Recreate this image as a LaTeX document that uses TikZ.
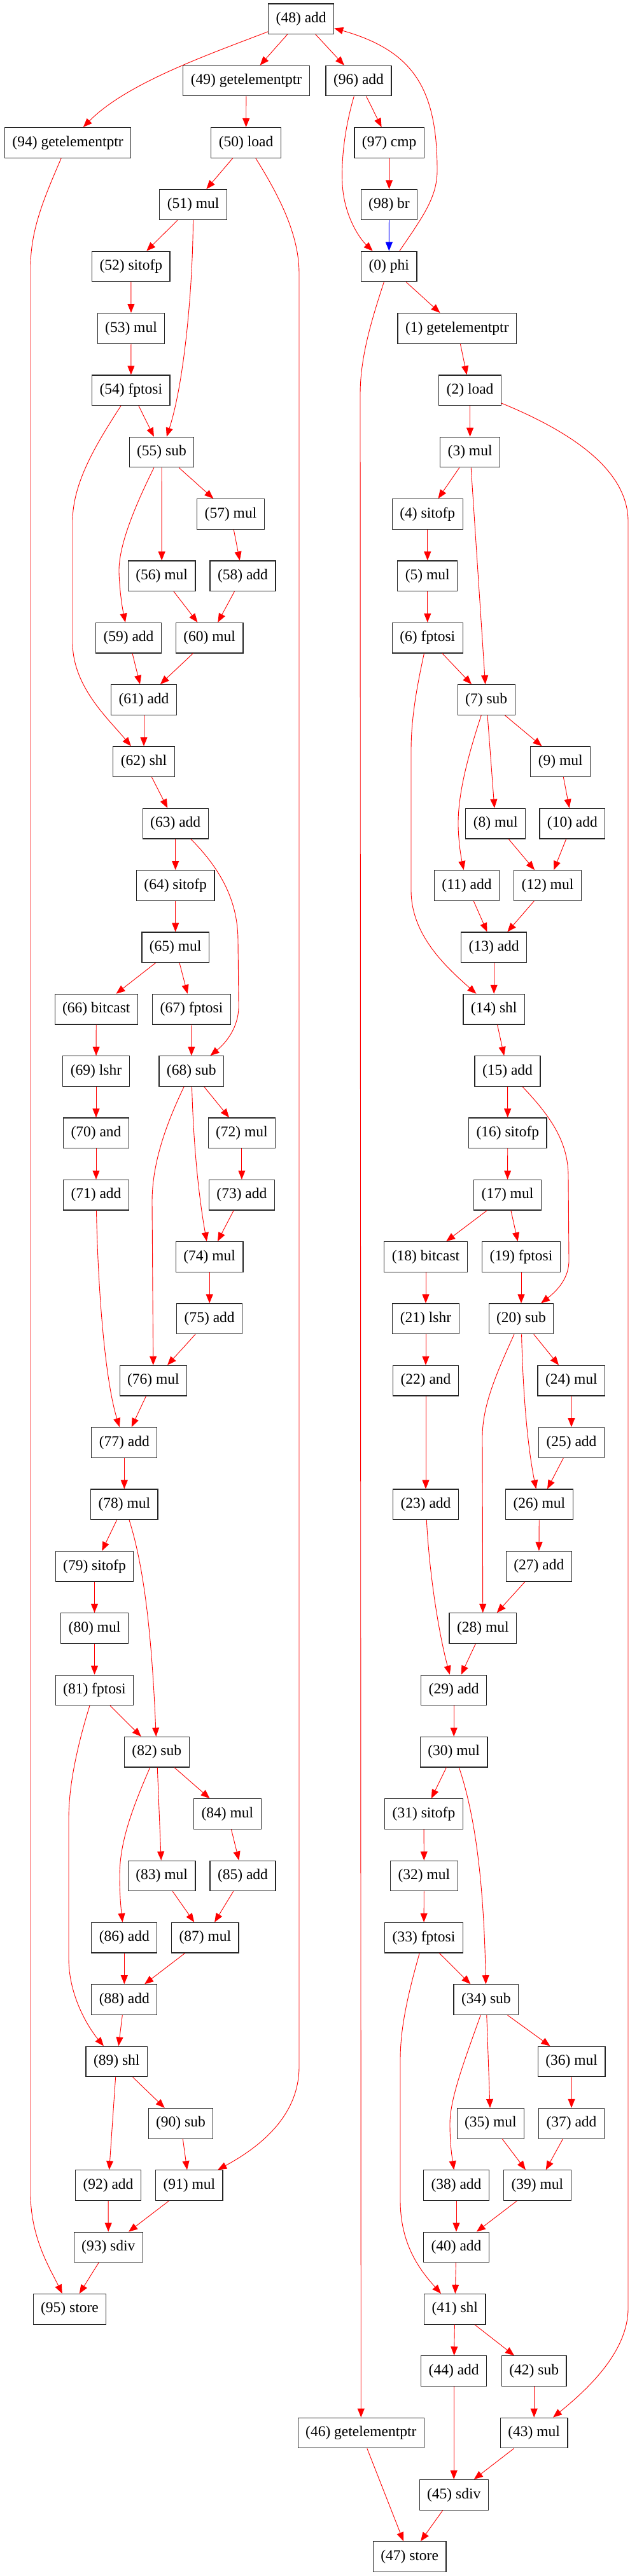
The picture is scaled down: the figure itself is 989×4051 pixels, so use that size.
\documentclass[tikz,border=0pt]{standalone}
\usepackage{fontspec}
\newfontfamily\gv{Liberation Serif}
\usetikzlibrary{arrows.meta}
\tikzset{
  box/.style={draw=black!85, line width=1.2pt, minimum height=47.6pt, inner xsep=12pt, inner ysep=0pt, font=\gv\fontsize{23.5}{27}\selectfont, fill=white},
  e/.style={draw=red, line width=0.9pt, -{Triangle[length=14pt,width=11pt]}, fill=none},
  eb/.style={e, draw=blue}
}
\newcommand{\nd}[4]{\node[box] (n#1) at (#2,29.7+97.34*#3) {(#1) #4};}
\newcommand{\ed}[2]{\draw[e] (n#1) -- (n#2);}
\begin{document}
\begin{tikzpicture}[x=1pt,y=-1pt]
\fill[white] (0,0) rectangle (989,4051);
\useasboundingbox (0,0) rectangle (989,4051);
% nodes
\nd{48}{473.2}{0}{add}
\nd{49}{387}{1}{getelementptr}
\nd{96}{563.5}{1}{add}
\nd{94}{106.6}{2}{getelementptr}
\nd{50}{386.5}{2}{load}
\nd{97}{611.7}{2}{cmp}
\nd{51}{303.6}{3}{mul}
\nd{98}{611.5}{3}{br}
\nd{52}{205.8}{4}{sitofp}
\nd{0}{611.3}{4}{phi}
\nd{53}{206}{5}{mul}
\nd{1}{718.3}{5}{getelementptr}
\nd{54}{205.8}{6}{fptosi}
\nd{2}{738.6}{6}{load}
\nd{55}{254}{7}{sub}
\nd{3}{738.6}{7}{mul}
\nd{57}{362.5}{8}{mul}
\nd{4}{671.8}{8}{sitofp}
\nd{56}{254.2}{9}{mul}
\nd{58}{381.5}{9}{add}
\nd{5}{671.8}{9}{mul}
\nd{59}{202}{10}{add}
\nd{60}{329.2}{10}{mul}
\nd{6}{671.8}{10}{fptosi}
\nd{61}{226}{11}{add}
\nd{7}{764.2}{11}{sub}
\nd{62}{226}{12}{shl}
\nd{9}{880.7}{12}{mul}
\nd{63}{275.7}{13}{add}
\nd{8}{778.8}{13}{mul}
\nd{10}{899.4}{13}{add}
\nd{64}{275.7}{14}{sitofp}
\nd{11}{733.5}{14}{add}
\nd{12}{860.5}{14}{mul}
\nd{65}{275.7}{15}{mul}
\nd{13}{776.2}{15}{add}
\nd{66}{151.3}{16}{bitcast}
\nd{67}{301}{16}{fptosi}
\nd{14}{776.2}{16}{shl}
\nd{69}{151}{17}{lshr}
\nd{68}{300.8}{17}{sub}
\nd{15}{797.5}{17}{add}
\nd{70}{151}{18}{and}
\nd{72}{379.9}{18}{mul}
\nd{16}{797.8}{18}{sitofp}
\nd{71}{151}{19}{add}
\nd{73}{379.9}{19}{add}
\nd{17}{797.5}{19}{mul}
\nd{74}{329.2}{20}{mul}
\nd{18}{669}{20}{bitcast}
\nd{19}{819}{20}{fptosi}
\nd{75}{329.2}{21}{add}
\nd{21}{669}{21}{lshr}
\nd{20}{819}{21}{sub}
\nd{76}{240.9}{22}{mul}
\nd{22}{669}{22}{and}
\nd{24}{897.8}{22}{mul}
\nd{77}{195.3}{23}{add}
\nd{25}{898}{23}{add}
\nd{78}{195.3}{24}{mul}
\nd{23}{669}{24}{add}
\nd{26}{847.4}{24}{mul}
\nd{79}{148.5}{25}{sitofp}
\nd{27}{846.8}{25}{add}
\nd{80}{148.5}{26}{mul}
\nd{28}{758.8}{26}{mul}
\nd{81}{148.5}{27}{fptosi}
\nd{29}{713.2}{27}{add}
\nd{82}{246.3}{28}{sub}
\nd{30}{713.2}{28}{mul}
\nd{84}{357.4}{29}{mul}
\nd{31}{666}{29}{sitofp}
\nd{83}{254.2}{30}{mul}
\nd{85}{381.5}{30}{add}
\nd{32}{666.4}{30}{mul}
\nd{86}{195.3}{31}{add}
\nd{87}{322.3}{31}{mul}
\nd{33}{666}{31}{fptosi}
\nd{88}{195.3}{32}{add}
\nd{34}{763.9}{32}{sub}
\nd{89}{183.3}{33}{shl}
\nd{36}{898.1}{33}{mul}
\nd{90}{284}{34}{sub}
\nd{35}{770.9}{34}{mul}
\nd{37}{898}{34}{add}
\nd{92}{170}{35}{add}
\nd{91}{297.3}{35}{mul}
\nd{38}{717}{35}{add}
\nd{39}{844.3}{35}{mul}
\nd{93}{170.3}{36}{sdiv}
\nd{40}{717}{36}{add}
\nd{95}{109.5}{37}{store}
\nd{41}{714.8}{37}{shl}
\nd{44}{713.2}{38}{add}
\nd{42}{839.2}{38}{sub}
\nd{46}{567.3}{39}{getelementptr}
\nd{43}{839.2}{39}{mul}
\nd{45}{713.2}{40}{sdiv}
\nd{47}{643.6}{41}{store}
% straight edges
\ed{48}{49}\ed{48}{96}\ed{49}{50}\ed{96}{97}\ed{97}{98}\ed{50}{51}\ed{51}{52}
\ed{52}{53}\ed{53}{54}\ed{54}{55}\ed{0}{1}\ed{1}{2}\ed{2}{3}
\ed{55}{57}\ed{55}{56}\ed{57}{58}\ed{56}{60}\ed{58}{60}\ed{59}{61}\ed{60}{61}
\ed{61}{62}\ed{62}{63}\ed{63}{64}\ed{64}{65}\ed{65}{66}\ed{65}{67}\ed{66}{69}
\ed{67}{68}\ed{69}{70}\ed{70}{71}\ed{68}{72}\ed{72}{73}\ed{73}{74}\ed{74}{75}
\ed{75}{76}\ed{76}{77}\ed{77}{78}\ed{78}{79}\ed{79}{80}\ed{80}{81}\ed{81}{82}
\ed{82}{84}\ed{82}{83}\ed{84}{85}\ed{83}{87}\ed{85}{87}\ed{86}{88}\ed{87}{88}
\ed{88}{89}\ed{89}{90}\ed{89}{92}\ed{90}{91}\ed{92}{93}\ed{91}{93}\ed{93}{95}
\ed{3}{4}\ed{3}{7}\ed{4}{5}\ed{5}{6}\ed{6}{7}\ed{7}{9}\ed{7}{8}\ed{9}{10}
\ed{8}{12}\ed{10}{12}\ed{11}{13}\ed{12}{13}\ed{13}{14}\ed{14}{15}\ed{15}{16}
\ed{16}{17}\ed{17}{18}\ed{17}{19}\ed{18}{21}\ed{19}{20}\ed{21}{22}\ed{22}{23}
\ed{20}{24}\ed{24}{25}\ed{25}{26}\ed{26}{27}\ed{27}{28}\ed{28}{29}\ed{29}{30}
\ed{30}{31}\ed{31}{32}\ed{32}{33}\ed{33}{34}\ed{34}{36}\ed{34}{35}\ed{36}{37}
\ed{35}{39}\ed{37}{39}\ed{38}{40}\ed{39}{40}\ed{40}{41}\ed{41}{44}\ed{41}{42}
\ed{42}{43}\ed{44}{45}\ed{43}{45}\ed{46}{47}\ed{45}{47}
\draw[eb] (n98) -- (n0);
% curved edges
\draw[e] (n48) .. controls (330,85) and (200,130) .. (n94);
\draw[e] (n0) .. controls (665,340) and (687,310) .. (687,268) .. controls (687,140) and (650,80) .. (n48);
\draw[e] (n96) .. controls (542,200) and (536,250) .. (538,290) .. controls (541,340) and (565,375) .. (n0);
\draw[e] (n94) .. controls (70,310) and (48,360) .. (48,420) -- (48,3450) .. controls (48,3520) and (80,3570) .. (n95);
\draw[e] (n50) .. controls (440,310) and (470,370) .. (470,430) -- (470,3250) .. controls (470,3320) and (420,3370) .. (n91);
\draw[e] (n51) .. controls (303,450) and (290,600) .. (n55);
\draw[e] (n54) .. controls (150,700) and (114,760) .. (114,820) -- (114,1010) .. controls (114,1080) and (170,1130) .. (n62);
\draw[e] (n55) .. controls (210,800) and (186,860) .. (187,900) .. controls (188,930) and (192,955) .. (n59);
\draw[e] (n63) .. controls (350,1370) and (374,1420) .. (374,1480) -- (375,1580) .. controls (376,1615) and (355,1640) .. (n68);
\draw[e] (n68) .. controls (260,1770) and (239,1830) .. (239,1890) -- (n76);
\draw[e] (n68) .. controls (304,1800) and (312,1880) .. (n74);
\draw[e] (n71) .. controls (154,2030) and (165,2170) .. (n77);
\draw[e] (n78) .. controls (225,2460) and (238,2560) .. (n82);
\draw[e] (n81) .. controls (120,2750) and (108,2810) .. (108,2860) -- (108,3080) .. controls (108,3140) and (140,3190) .. (n89);
\draw[e] (n82) .. controls (205,2850) and (188,2900) .. (188,2950) .. controls (188,2980) and (190,3000) .. (n86);
\draw[e] (n2) .. controls (900,680) and (987,740) .. (987,820) -- (987,3630) .. controls (987,3700) and (920,3760) .. (n43);
\draw[e] (n0) .. controls (585,500) and (566,560) .. (566,620) -- (n46);
\draw[e] (n6) .. controls (655,1080) and (646,1130) .. (646,1180) -- (646,1400) .. controls (646,1470) and (700,1520) .. (n14);
\draw[e] (n7) .. controls (735,1190) and (719,1250) .. (720,1300) .. controls (721,1330) and (725,1350) .. (n11);
\draw[e] (n15) .. controls (870,1760) and (893,1800) .. (893,1850) -- (894,1980) .. controls (895,2010) and (875,2030) .. (n20);
\draw[e] (n20) .. controls (780,2160) and (758,2210) .. (758,2260) -- (n28);
\draw[e] (n20) .. controls (822,2200) and (830,2280) .. (n26);
\draw[e] (n23) .. controls (675,2480) and (690,2570) .. (n29);
\draw[e] (n30) .. controls (745,2850) and (760,2950) .. (n34);
\draw[e] (n33) .. controls (640,3140) and (629,3190) .. (629,3240) -- (629,3460) .. controls (629,3530) and (660,3570) .. (n41);
\draw[e] (n34) .. controls (730,3240) and (707,3300) .. (707,3340) .. controls (707,3370) and (710,3390) .. (n38);
\end{tikzpicture}
\end{document}
